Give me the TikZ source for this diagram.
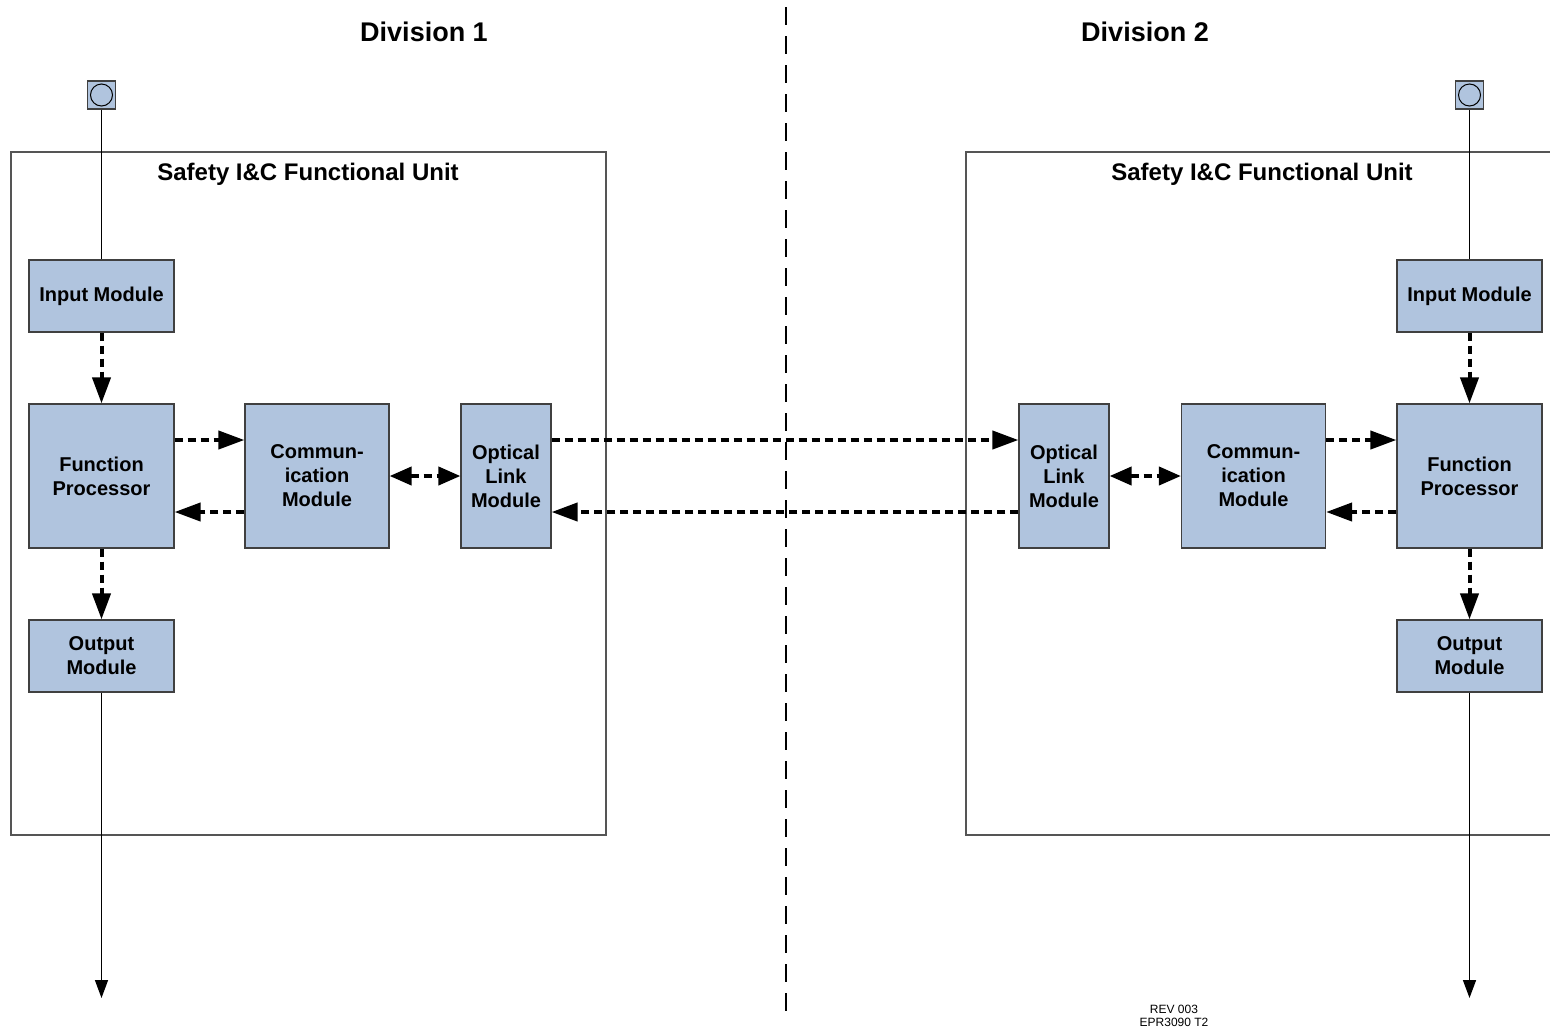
\documentclass[tikz,border=0pt]{standalone}
\usepackage{fontspec}
\setmainfont{Liberation Sans}
\usetikzlibrary{arrows.meta}
\definecolor{boxfill}{HTML}{B0C4DE}
\definecolor{boxline}{HTML}{404040}
\definecolor{unitline}{HTML}{555555}
\tikzset{
  modbox/.style={draw=boxline, line width=1.2pt, fill=boxfill, inner sep=0pt,
    align=center, font=\fontsize{20}{24}\selectfont\bfseries},
  sensor/.style={draw=boxline, line width=1.2pt, fill=boxfill, minimum width=28pt,
    minimum height=28pt, inner sep=0pt},
  dataflow/.style={line width=4pt, dash pattern=on 8pt off 5pt,
    -{Triangle[length=26pt,width=18pt]}},
  dataflowboth/.style={line width=4pt, dash pattern=on 8pt off 5pt,
    {Triangle[length=22pt,width=18pt]}-{Triangle[length=22pt,width=18pt]}},
  signal/.style={line width=1.5pt},
  unitbox/.style={draw=unitline, line width=1.2pt},
  divlabel/.style={font=\fontsize{27}{30}\selectfont\bfseries},
  unitlabel/.style={font=\fontsize{24}{28}\selectfont\bfseries},
  revlabel/.style={font=\fontsize{12}{13}\selectfont, align=center},
}
\begin{document}
\begin{tikzpicture}[x=1pt,y=-1pt]
\useasboundingbox (0,0) rectangle (1550,1029);
% divider
\draw[line width=2pt, dash pattern=on 18pt off 11pt] (786,7) -- (786,1017);
\node[divlabel] (div1) at (424,32) {Division 1};
\node[divlabel] (div2) at (1145,32) {Division 2};
% unit boxes
\draw[unitbox] (11,152) rectangle (606,835);
\draw[unitbox] (1552,152) -- (966,152) -- (966,835) -- (1552,835);
\node[unitlabel] (ut1) at (308,174) {Safety I\&C Functional Unit};
\node[unitlabel] (ut2) at (1262,174) {Safety I\&C Functional Unit};
% left modules
\node[sensor] (senL) at (101.5,95) {};
\draw[line width=1pt] (senL.center) circle (11pt);
\node[modbox, minimum width=145pt, minimum height=72pt] (inL) at (101.5,296) {Input Module};
\node[modbox, minimum width=145pt, minimum height=144pt] (fpL) at (101.5,476) {Function\\Processor};
\node[modbox, minimum width=145pt, minimum height=72pt] (outL) at (101.5,656) {Output\\Module};
\node[modbox, minimum width=144pt, minimum height=144pt] (cmL) at (317,476) {Commun-\\ication\\Module};
\node[modbox, minimum width=90pt, minimum height=144pt] (olL) at (506,476) {Optical\\Link\\Module};
% right modules
\node[sensor] (senR) at (1469.5,95) {};
\draw[line width=1pt] (senR.center) circle (11pt);
\node[modbox, minimum width=145pt, minimum height=72pt] (inR) at (1469.5,296) {Input Module};
\node[modbox, minimum width=145pt, minimum height=144pt] (fpR) at (1469.5,476) {Function\\Processor};
\node[modbox, minimum width=145pt, minimum height=72pt] (outR) at (1469.5,656) {Output\\Module};
\node[modbox, minimum width=144pt, minimum height=144pt] (cmR) at (1253.5,476) {Commun-\\ication\\Module};
\node[modbox, minimum width=90pt, minimum height=144pt] (olR) at (1064,476) {Optical\\Link\\Module};
% end points
\coordinate (endL) at (101.5,998);
\coordinate (endR) at (1469.5,998);
% solid signal lines
\draw[signal] (senL.south) -- (inL.north);
\draw[signal] (senR.south) -- (inR.north);
\draw[signal, -{Triangle[length=18pt,width=13pt]}] (outL.south) -- (endL);
\draw[signal, -{Triangle[length=18pt,width=13pt]}] (outR.south) -- (endR);
% left flows
\draw[dataflow] (inL.south) -- (fpL.north);
\draw[dataflow] (fpL.south) -- (outL.north);
\draw[dataflow] (fpL.east |- 0,440) -- (cmL.west |- 0,440);
\draw[dataflow] (cmL.west |- 0,512) -- (fpL.east |- 0,512);
\draw[dataflowboth] (cmL.east) -- (olL.west);
% cross-division flows
\draw[dataflow] (olL.east |- 0,440) -- (olR.west |- 0,440);
\draw[dataflow] (olR.west |- 0,512) -- (olL.east |- 0,512);
% right flows
\draw[dataflow] (inR.south) -- (fpR.north);
\draw[dataflow] (fpR.south) -- (outR.north);
\draw[dataflow] (cmR.east |- 0,440) -- (fpR.west |- 0,440);
\draw[dataflow] (fpR.west |- 0,512) -- (cmR.east |- 0,512);
\draw[dataflowboth] (olR.east) -- (cmR.west);
% revision
\node[revlabel] (rev) at (1174,1015.5) {REV 003\\EPR3090 T2};
\end{tikzpicture}
\end{document}
